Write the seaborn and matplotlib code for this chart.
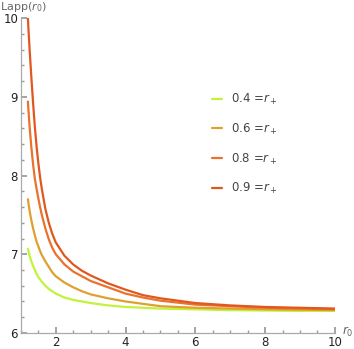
import matplotlib.pyplot as plt
import seaborn as sns
import pandas as pd
import numpy as np
from matplotlib.ticker import MultipleLocator

sns.set_theme(style='white')
plt.rcParams['font.family'] = ['DejaVu Sans']
plt.rcParams['mathtext.fontset'] = 'dejavusans'

# r0 sample points
r0 = [1.2, 1.25, 1.3, 1.35, 1.4, 1.45, 1.5, 1.55, 1.6, 1.7, 1.8, 1.9, 2.0,
      2.25, 2.5, 2.75, 3.0, 3.5, 4.0, 4.5, 5.0, 6.0, 7.0, 8.0, 9.0, 10.0]

# Lapp(r0) for each r_+
lapp_04 = [7.07, 6.98, 6.91, 6.85, 6.80, 6.75, 6.71, 6.68, 6.65, 6.60, 6.56, 6.53, 6.50,
           6.45, 6.42, 6.40, 6.38, 6.35, 6.33, 6.32, 6.31, 6.30, 6.29, 6.285, 6.28, 6.28]
lapp_06 = [7.70, 7.55, 7.43, 7.33, 7.24, 7.16, 7.10, 7.04, 6.99, 6.91, 6.84, 6.77, 6.72,
           6.64, 6.58, 6.53, 6.49, 6.44, 6.40, 6.37, 6.34, 6.32, 6.31, 6.30, 6.295, 6.29]
lapp_08 = [8.94, 8.62, 8.36, 8.14, 7.96, 7.83, 7.71, 7.60, 7.50, 7.33, 7.19, 7.08, 7.00,
           6.87, 6.78, 6.72, 6.66, 6.58, 6.50, 6.45, 6.41, 6.36, 6.34, 6.32, 6.31, 6.30]
lapp_09 = [10.0, 9.60, 9.25, 8.92, 8.62, 8.37, 8.16, 7.98, 7.83, 7.58, 7.40, 7.26, 7.15,
           6.98, 6.87, 6.79, 6.73, 6.63, 6.55, 6.48, 6.44, 6.38, 6.35, 6.33, 6.32, 6.31]

labels = ['0.4 =$r_+$', '0.6 =$r_+$', '0.8 =$r_+$', '0.9 =$r_+$']
colors = ['#c2f23a', '#e0a030', '#ea722c', '#e05820']

df = pd.concat([
    pd.DataFrame({'r0': r0, 'Lapp': ys, 'rp': lab})
    for ys, lab in zip([lapp_04, lapp_06, lapp_08, lapp_09], labels)
])

fig = plt.figure(figsize=(3.54, 3.49), dpi=100)
ax = fig.add_axes([0.059, 0.046, 0.887, 0.902])

sns.lineplot(data=df, x='r0', y='Lapp', hue='rp', palette=colors,
             linewidth=1.6, ax=ax, legend=True)

ax.set_xlim(1, 10)
ax.set_ylim(6, 10)
ax.set_xticks([2, 4, 6, 8, 10])
ax.set_yticks([6, 7, 8, 9, 10])
ax.xaxis.set_minor_locator(MultipleLocator(0.5))
ax.yaxis.set_minor_locator(MultipleLocator(0.2))
ax.tick_params(which='major', direction='in', length=4, color='#999999',
               labelsize=8.5, pad=2, bottom=True, left=True, labelcolor='#222222')
ax.tick_params(which='minor', direction='in', length=2, color='#999999',
               bottom=True, left=True)
for s in ['top', 'right']:
    ax.spines[s].set_visible(False)
for s in ['left', 'bottom']:
    ax.spines[s].set_color('#aaaaaa')
    ax.spines[s].set_linewidth(0.9)
ax.set_xlabel('')
ax.set_ylabel('')
ax.grid(False)

fig.text(0.0, 0.999, 'Lapp($r_0$)', fontsize=8, color='#666666', va='top', ha='left')
fig.text(0.965, 0.05, '$r_0$', fontsize=8.5, color='#666666', va='center', ha='left')

leg = ax.legend(loc='upper left', bbox_to_anchor=(0.575, 0.80), frameon=False,
                fontsize=8.5, handlelength=0.8, handletextpad=0.8, labelspacing=1.25)
for t in leg.get_texts():
    t.set_color('#444444')
for line in leg.get_lines():
    line.set_linewidth(1.6)

fig.savefig('out.png', dpi=100)
